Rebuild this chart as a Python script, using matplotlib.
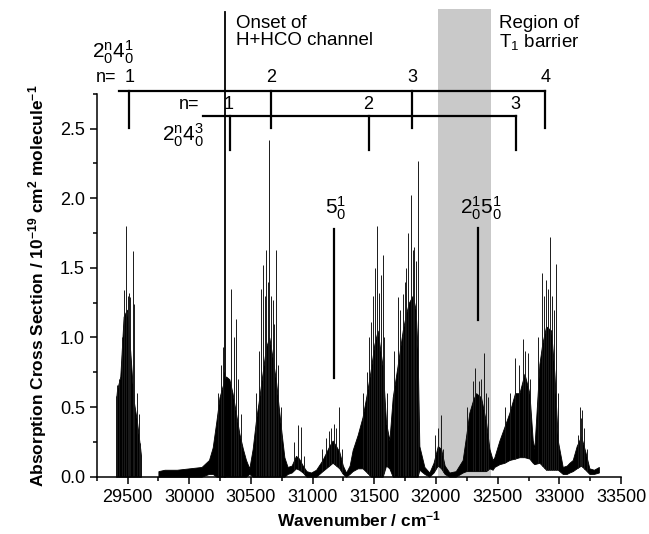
import numpy as np
import matplotlib
matplotlib.use("Agg")
import matplotlib.pyplot as plt

plt.rcParams['font.family'] = ['Liberation Sans', 'DejaVu Sans']
plt.rcParams['mathtext.fontset'] = 'custom'
plt.rcParams['mathtext.rm'] = 'Liberation Sans'
plt.rcParams['mathtext.it'] = 'Liberation Sans:italic'
plt.rcParams['mathtext.bf'] = 'Liberation Sans:bold'

# --- spectre (cm-1, 10^-19 cm2) ---
# bande isolée vers 29500
band1_w = [29406, 29414, 29441, 29468, 29495, 29522, 29549, 29576, 29603, 29609]
band1_top = [0.55, 0.62, 0.72, 1.15, 1.20, 0.90, 0.55, 0.40, 0.20, 0.15]
band1_low = [0.0] * len(band1_w)

# trace continue 29750 - 33320
spec_w = [29750, 29800, 29900, 30000, 30100, 30160, 30190, 30220, 30245, 30270,
          30298, 30325, 30351, 30380, 30406, 30435, 30460, 30487, 30514, 30540,
          30568, 30595, 30622, 30649, 30676, 30703, 30730, 30750, 30771, 30797,
          30830, 30865, 30890, 30920, 30950, 30987, 31028, 31080, 31135, 31162,
          31190, 31216, 31245, 31271, 31300, 31324, 31365, 31405, 31440, 31473,
          31500, 31527, 31550, 31568, 31595, 31622, 31649, 31689, 31730, 31757,
          31780, 31811, 31835, 31851, 31865, 31906, 31946, 31980, 32014, 32041,
          32070, 32108, 32160, 32216, 32245, 32270, 32300, 32325, 32365, 32406,
          32433, 32459, 32473, 32514, 32555, 32595, 32640, 32676, 32717, 32757,
          32784, 32797, 32838, 32860, 32892, 32933, 32960, 32987, 33027, 33060,
          33081, 33108, 33140, 33176, 33210, 33243, 33280, 33320]
spec_top = [0.04, 0.05, 0.05, 0.06, 0.07, 0.12, 0.21, 0.40, 0.57, 0.65,
            0.72, 0.70, 0.60, 0.45, 0.31, 0.20, 0.12, 0.06, 0.20, 0.40,
            0.57, 0.75, 0.93, 1.00, 0.85, 0.69, 0.46, 0.30, 0.14, 0.07,
            0.08, 0.15, 0.13, 0.08, 0.04, 0.03, 0.05, 0.12, 0.22, 0.26,
            0.22, 0.18, 0.08, 0.03, 0.08, 0.19, 0.30, 0.43, 0.60, 0.78,
            0.95, 1.05, 0.90, 0.79, 0.39, 0.26, 0.57, 0.80, 1.05, 1.17,
            1.25, 1.30, 1.20, 0.90, 0.22, 0.07, 0.03, 0.10, 0.22, 0.20,
            0.08, 0.03, 0.04, 0.12, 0.30, 0.46, 0.55, 0.60, 0.57, 0.39,
            0.20, 0.12, 0.14, 0.26, 0.36, 0.46, 0.60, 0.60, 0.74, 0.60,
            0.26, 0.20, 0.81, 0.95, 1.08, 1.05, 0.74, 0.26, 0.07, 0.08,
            0.10, 0.12, 0.22, 0.29, 0.18, 0.06, 0.05, 0.07]
spec_low = [0.0, 0.0, 0.0, 0.0, 0.0, 0.02, 0.02, 0.0, 0.0, 0.0,
            0.0, 0.0, 0.0, 0.0, 0.0, 0.0, 0.0, 0.02, 0.0, 0.0,
            0.0, 0.0, 0.0, 0.0, 0.0, 0.0, 0.0, 0.0, 0.0, 0.02,
            0.03, 0.06, 0.05, 0.03, 0.0, 0.0, 0.0, 0.04, 0.08, 0.10,
            0.08, 0.06, 0.02, 0.0, 0.02, 0.04, 0.06, 0.06, 0.03, 0.0,
            0.0, 0.0, 0.0, 0.0, 0.08, 0.06, 0.0, 0.0, 0.0, 0.0,
            0.0, 0.0, 0.0, 0.0, 0.05, 0.02, 0.0, 0.03, 0.08, 0.06,
            0.02, 0.0, 0.0, 0.03, 0.04, 0.04, 0.04, 0.04, 0.04, 0.04,
            0.06, 0.05, 0.07, 0.09, 0.10, 0.12, 0.13, 0.14, 0.14, 0.13,
            0.10, 0.09, 0.10, 0.08, 0.05, 0.05, 0.05, 0.05, 0.02, 0.02,
            0.03, 0.04, 0.06, 0.08, 0.05, 0.02, 0.02, 0.03]

# pics fins (raies) qui dépassent l'enveloppe
spike_w = [29406, 29414, 29430, 29455, 29470, 29487, 29500, 29510, 29522, 29541,
           29555, 29575, 29590, 29603,
           30230, 30255, 30270, 30285, 30338, 30360, 30379, 30395, 30420,
           30540, 30568, 30580, 30595, 30610, 30622, 30637, 30649, 30662, 30676,
           30690, 30703, 30720, 30745,
           30850, 30878, 30906, 30930,
           31080, 31110, 31135, 31150, 31175, 31190, 31216, 31240,
           31405, 31440, 31460, 31473, 31490, 31505, 31522, 31535, 31541, 31555,
           31568, 31580, 31600,
           31660, 31689, 31705, 31730, 31745, 31757, 31775, 31798, 31811, 31825,
           31840, 31851,
           31990, 32014, 32041, 32060,
           32250, 32297, 32320, 32351, 32365, 32386, 32406, 32419,
           32560, 32600, 32640, 32670, 32708, 32725, 32743, 32760,
           32830, 32860, 32875, 32892, 32910, 32925, 32940, 32955, 32973, 32990,
           33150, 33165, 33176, 33185, 33200, 33220]
spike_h = [0.58, 0.66, 0.70, 1.00, 1.34, 1.80, 1.30, 1.32, 1.29, 1.62,
           1.24, 0.60, 0.45, 0.24,
           0.60, 0.80, 0.93, 0.75, 1.35, 1.00, 1.13, 0.70, 0.45,
           0.60, 0.90, 1.35, 1.52, 1.30, 1.63, 1.40, 2.42, 1.30, 1.27,
           1.10, 1.63, 0.80, 0.50,
           0.25, 0.37, 0.36, 0.15,
           0.20, 0.28, 0.33, 0.35, 0.38, 0.35, 0.50, 0.20,
           0.60, 0.75, 1.00, 1.11, 1.30, 1.50, 1.80, 1.30, 1.32, 1.45,
           1.59, 1.00, 0.60,
           0.90, 1.29, 1.20, 1.31, 1.40, 1.50, 1.75, 2.02, 1.63, 1.65,
           1.55, 2.27,
           0.30, 0.35, 0.44, 0.20,
           0.50, 0.69, 0.78, 0.69, 0.70, 0.89, 0.60, 0.57,
           0.50, 0.60, 0.85, 0.80, 0.99, 0.90, 0.89, 0.70,
           1.00, 1.46, 1.30, 1.41, 1.35, 1.72, 1.30, 1.20, 1.53, 0.60,
           0.30, 0.50, 0.42, 0.48, 0.35, 0.20]

# progressions 2^n_0 4^1_0 et 2^n_0 4^3_0
prog1_w = [29514, 30663, 31806, 32887]
prog1_n = ['1', '2', '3', '4']
prog2_w = [30333, 31460, 32649]
prog2_n = ['1', '2', '3']

onset_w = 30290
barrier_w = (32020, 32446)
band_5 = 31170
band_25 = 32341

fig = plt.figure(figsize=(6.49, 5.34), dpi=100)
ax = fig.add_axes([0.149, 0.1073, 0.808, 0.7169])

# zone grise (barrière T1)
ax.fill_between(barrier_w, 0, 3.358, color='#c9c9c9', lw=0, zorder=0, clip_on=False)

# spectre
ax.fill_between(band1_w, band1_low, band1_top, color='black', lw=0.6, zorder=2)
ax.fill_between(spec_w, spec_low, spec_top, color='black', lw=0.6, zorder=2)
all_w = band1_w + spec_w
all_low = band1_low + spec_low
base = np.interp(spike_w, all_w, all_low)
ax.vlines(spike_w, base, spike_h, color='#1a1a1a', lw=0.7, zorder=2)

# onset H+HCO
ax.plot([onset_w, onset_w], [0, 3.34], color='black', lw=1.3, clip_on=False, zorder=3)
ax.text(30379, 3.32, "Onset of\nH+HCO channel", ha='left', va='top', fontsize=13.5,
        linespacing=1.05)
ax.text(32508, 3.32, "Region of\n$\\mathregular{T_1}$ barrier", ha='left', va='top',
        fontsize=13.5, linespacing=1.05)

# progression 1
y1, y1b = 2.773, 2.505
ax.plot([29432, prog1_w[-1]], [y1, y1], color='black', lw=1.6, clip_on=False, zorder=3)
for w, n in zip(prog1_w, prog1_n):
    ax.plot([w, w], [y1, y1b], color='black', lw=1.6, clip_on=False, zorder=3)
    ax.text(w, 2.81, n, ha='center', va='bottom', fontsize=13)
ax.text(29412, 2.81, "n=", ha='right', va='bottom', fontsize=13)
ax.text(29384, 3.05, r"$\mathregular{2^n_0 4^1_0}$", ha='center', va='center', fontsize=15)

# progression 2
y2, y2b = 2.593, 2.347
ax.plot([30115, prog2_w[-1]], [y2, y2], color='black', lw=1.6, clip_on=False, zorder=3)
for w, n in zip(prog2_w, prog2_n):
    ax.plot([w, w], [y2, y2b], color='black', lw=1.6, clip_on=False, zorder=3)
    ax.text(w - 10, 2.615, n, ha='center', va='bottom', fontsize=13)
ax.text(30085, 2.615, "n=", ha='right', va='bottom', fontsize=13)
ax.text(29945, 2.45, r"$\mathregular{2^n_0 4^3_0}$", ha='center', va='center', fontsize=15)

# 5^1_0 et 2^1_0 5^1_0
ax.plot([band_5, band_5], [0.707, 1.779], color='black', lw=1.6, zorder=3)
ax.text(31184, 1.93, r"$\mathregular{5^1_0}$", ha='center', va='center', fontsize=15)
ax.plot([band_25, band_25], [1.125, 1.784], color='black', lw=1.6, zorder=3)
ax.text(32368, 1.93, r"$\mathregular{2^1_0 5^1_0}$", ha='center', va='center', fontsize=15)

# axes
ax.set_xlim(29250, 33500)
ax.set_ylim(0, 2.75)
ax.set_xticks(np.arange(29500, 33501, 500))
ax.set_xticks(np.arange(29250, 33500, 250), minor=True)
ax.set_yticks(np.arange(0, 2.51, 0.5))
ax.set_yticklabels([f"{v:.1f}" for v in np.arange(0, 2.51, 0.5)])
ax.set_yticks(np.arange(0, 2.76, 0.25), minor=True)
ax.tick_params(which='major', length=5, width=1.1, labelsize=13, direction='out')
ax.tick_params(which='minor', length=3, width=1.1, direction='out')
for s in ['top', 'right']:
    ax.spines[s].set_visible(False)
for s in ['left', 'bottom']:
    ax.spines[s].set_linewidth(1.1)

ax.set_xlabel(r"Wavenumber / cm$\mathbf{^{-1}}$", fontsize=12.5, fontweight='bold', labelpad=3)
ax.set_ylabel(r"Absorption Cross Section / 10$\mathbf{^{-19}}$ cm$\mathbf{^2}$ molecule$\mathbf{^{-1}}$",
              fontsize=12.5, fontweight='bold', labelpad=8)

fig.savefig("out.png", dpi=100)
